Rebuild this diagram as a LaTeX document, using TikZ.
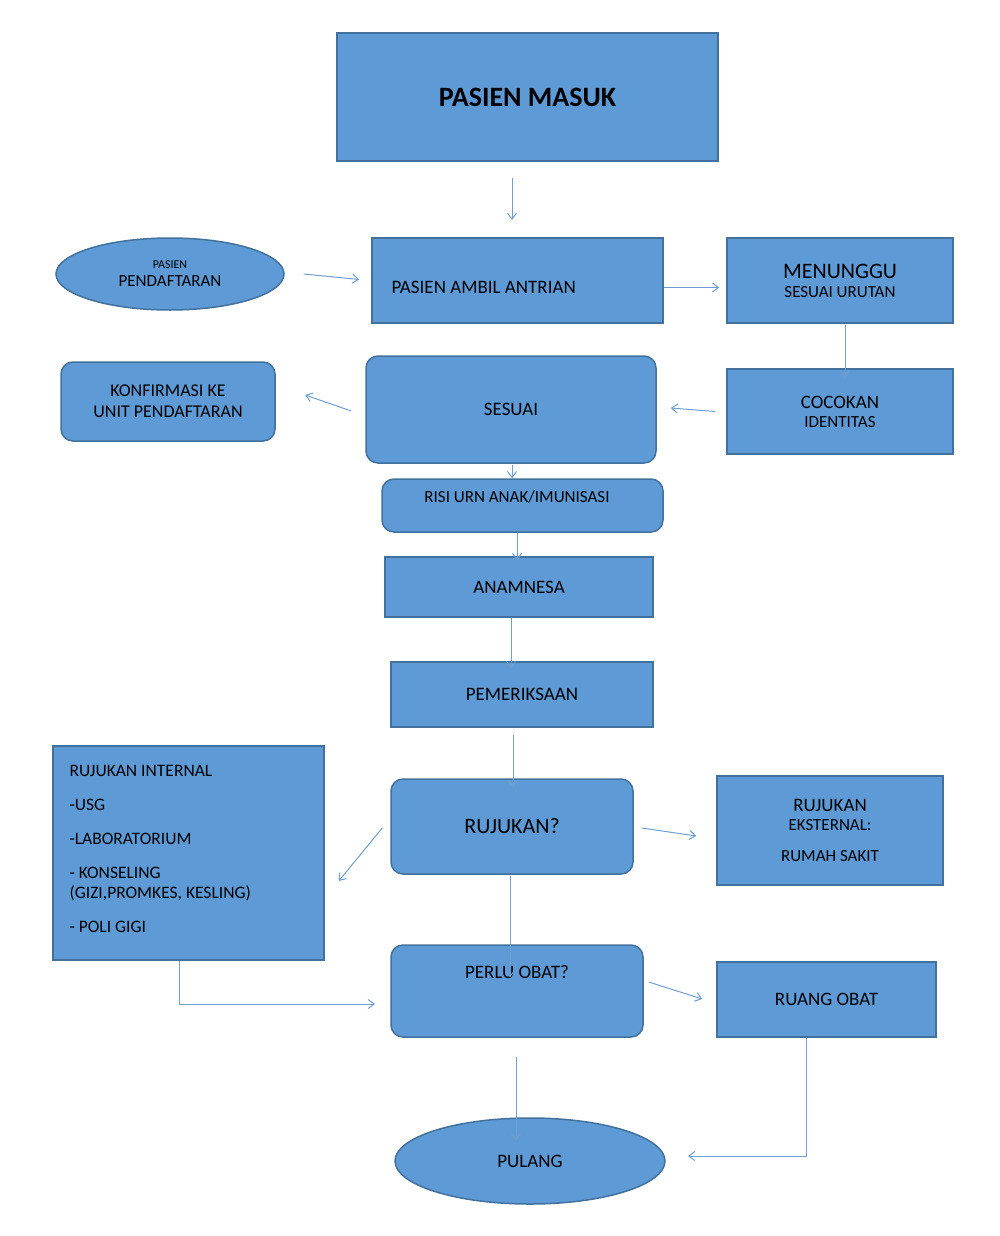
\documentclass[tikz,border=0pt]{standalone}
\usepackage{fontspec}
\setmainfont{Carlito}
\usetikzlibrary{shapes.geometric,arrows.meta}
\definecolor{bfill}{HTML}{5E9BD6}
\definecolor{bdraw}{HTML}{41719C}
\definecolor{arr}{HTML}{6F9FD0}
\begin{document}
\begin{tikzpicture}[x=1pt,y=-1pt,
 box/.style={draw=bdraw,line width=1.5pt,fill=bfill,inner sep=0pt,align=center,font=\fontsize{17}{19}\selectfont},
 rbox/.style={box,rounded corners=12pt},
 ell/.style={box,ellipse},
 ar/.style={draw=arr,line width=1pt,-{Straight Barb[length=6pt,width=9pt]}}]
\useasboundingbox (0,0) rectangle (1000,1236);
\fill[white] (0,0) rectangle (1000,1236);
\newcommand\bx[6]{\node[#1,minimum width=#4pt,minimum height=#5pt] (#2) at (#3) {#6};}
\bx{box}{masuk}{527.5,97}{381}{128}{\fontsize{28}{30}\selectfont\bfseries PASIEN MASUK}
\bx{ell}{daftar}{170,274}{228}{72}{\fontsize{12}{13}\selectfont PASIEN\\[-1pt]PENDAFTARAN}
\bx{box}{antri}{517.5,280.5}{291}{85}{}
\node[font=\fontsize{19}{21}\selectfont,anchor=west] at (388,287) {PASIEN AMBIL ANTRIAN};
\bx{box}{tunggu}{840,280.5}{226}{85}{\fontsize{22}{25}\selectfont MENUNGGU\\SESUAI URUTAN}
\bx{box}{cocok}{840,411.5}{226}{85}{\fontsize{19}{21}\selectfont COCOKAN\\IDENTITAS}
\bx{rbox}{sesuai}{511,409.5}{290}{107}{\fontsize{19}{21}\selectfont SESUAI}
\draw[draw=bdraw,line width=1.5pt,fill=bfill,rounded corners=12pt] (61,441) -- (61,362) -- (275,362) -- (275,441) -- cycle;
\node[sharp corners,minimum width=214pt,minimum height=79pt,align=center,font=\fontsize{18}{21}\selectfont] (konf) at (168,401.5) {KONFIRMASI KE\\UNIT PENDAFTARAN};
\bx{rbox}{risi}{522.5,505.5}{281}{53}{}
\node[font=\fontsize{17}{19}\selectfont] at (517,497) {RISI URN ANAK/IMUNISASI};
\bx{box}{anam}{519,587}{268}{60}{\fontsize{19}{21}\selectfont ANAMNESA}
\bx{box}{periksa}{522,694.5}{262}{65}{\fontsize{19}{21}\selectfont PEMERIKSAAN}
\bx{box}{internal}{188.5,853}{271}{214}{}
\node[anchor=north west,align=left,font=\fontsize{17.5}{20}\selectfont] at (66,762) {RUJUKAN INTERNAL\\[14pt]-USG\\[14pt]-LABORATORIUM\\[14pt]- KONSELING\\(GIZI,PROMKES, KESLING)\\[14pt]- POLI GIGI};
\bx{rbox}{rujuk}{512,826.5}{242}{95}{\fontsize{22}{24}\selectfont RUJUKAN?}
\bx{box}{ekst}{830,830.5}{226}{109}{\fontsize{19}{21}\selectfont RUJUKAN\\EKSTERNAL:\\[12pt]RUMAH SAKIT}
\bx{rbox}{obat}{517,991}{252}{92}{\fontsize{19}{21}\selectfont PERLU OBAT?\\[20pt]}
\bx{box}{ruang}{826.5,999.5}{219}{75}{\fontsize{19}{21}\selectfont RUANG OBAT}
\bx{ell}{pulang}{530,1161}{270}{86}{\fontsize{19}{21}\selectfont PULANG}
% connectors
\coordinate (a1) at (512,178); \coordinate (a2) at (512,220);
\draw[ar] (a1) -- (a2);
\draw[ar] ([xshift=19pt]daftar.east) -- ([xshift=-12pt,yshift=1pt]antri.west);
\draw[ar] ([yshift=-7pt]antri.east) -- ([xshift=-7pt,yshift=-7pt]tunggu.west);
\draw[ar] (845,325) -- ([yshift=-9pt]cocok.north -| 845,0);
\draw[ar] ([xshift=-11pt]cocok.west) -- ([xshift=14pt,yshift=1.5pt]sesuai.east);
\draw[ar] ([xshift=-14pt,yshift=-1.5pt]sesuai.west) -- ([xshift=30pt,yshift=6.5pt]konf.east);
\draw[ar] (512,465) -- (risi.north -| 512,0);
\draw[ar] (517,533) -- ([yshift=-4pt]anam.north -| 517,0);
\draw[ar] (511,618) -- ([yshift=-7pt]periksa.north -| 511,0);
\draw[ar] (513,735) -- ([yshift=-9pt]rujuk.north -| 513,0);
\draw[ar] ([xshift=-8pt,yshift=-1.5pt]rujuk.west) -- ([xshift=14pt,yshift=-28pt]internal.east);
\draw[ar] ([xshift=8pt,yshift=-1.5pt]rujuk.east) -- ([xshift=-20pt,yshift=-5.5pt]ekst.west);
\draw[ar] (510,876) -- ([yshift=-33pt]obat.north -| 510,0);
\coordinate (e1) at (375,1004);
\draw[ar] (internal.south -| 179,0) -- (179,1004) -- (e1);
\draw[ar] ([xshift=5pt,yshift=9pt]obat.east) -- ([xshift=-14pt,yshift=0.5pt]ruang.west);
\draw[ar] (516,1057) -- ([yshift=-23pt]pulang.north -| 516,0);
\coordinate (e2) at (688,1156);
\draw[ar] (ruang.south -| 806,0) -- (806,1156) -- (e2);
\end{tikzpicture}
\end{document}
